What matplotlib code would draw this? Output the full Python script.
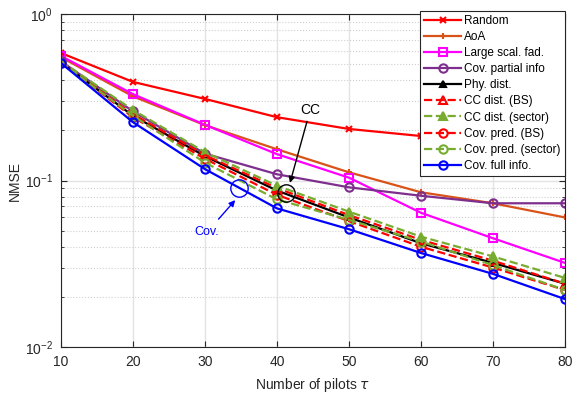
import matplotlib
matplotlib.use("Agg")
import matplotlib.pyplot as plt
from matplotlib.ticker import LogLocator, NullFormatter

plt.rcParams['font.family'] = ['Liberation Sans', 'DejaVu Sans']

pilots = [10, 20, 30, 40, 50, 60, 70, 80]
random_ = [0.583, 0.391, 0.309, 0.240, 0.204, 0.185, 0.168, 0.146]
aoa = [0.55, 0.32, 0.215, 0.154, 0.112, 0.085, 0.073, 0.060]
large_scal = [0.56, 0.33, 0.216, 0.144, 0.104, 0.064, 0.045, 0.032]
cov_partial = [0.52, 0.26, 0.145, 0.109, 0.091, 0.081, 0.073, 0.073]
phy_dist = [0.51, 0.245, 0.140, 0.087, 0.060, 0.042, 0.032, 0.024]
cc_bs = [0.51, 0.25, 0.142, 0.090, 0.062, 0.044, 0.033, 0.024]
cc_sector = [0.52, 0.265, 0.148, 0.093, 0.065, 0.046, 0.035, 0.026]
cov_pred_bs = [0.51, 0.24, 0.135, 0.082, 0.057, 0.040, 0.030, 0.022]
cov_pred_sector = [0.51, 0.245, 0.128, 0.077, 0.058, 0.043, 0.031, 0.022]
cov_full = [0.507, 0.224, 0.117, 0.068, 0.051, 0.0367, 0.0275, 0.0194]

fig = plt.figure(figsize=(5.73, 3.95), dpi=100)
ax = fig.add_axes([0.1065, 0.1215, 0.8795, 0.843])

orange = '#D95319'
purple = '#7E2F8E'
green = '#77AC30'
lw = 1.6
ms = 6
ax.plot(pilots, random_, '-', color='red', marker='x', lw=lw, ms=4, mew=1.5, label='Random')
ax.plot(pilots, aoa, '-', color=orange, marker='+', lw=lw, ms=5, mew=1.5, label='AoA')
ax.plot(pilots, large_scal, '-', color='magenta', marker='s', mfc='none', lw=lw, ms=ms, mew=1.5, label='Large scal. fad.')
ax.plot(pilots, cov_partial, '-', color=purple, marker='o', mfc='none', lw=lw, ms=ms, mew=1.5, label='Cov. partial info')
ax.plot(pilots, phy_dist, '-', color='black', marker='^', mfc='black', lw=lw, ms=4, mew=1.5, label='Phy. dist.')
ax.plot(pilots, cc_bs, '--', color='red', marker='^', mfc='none', lw=lw, ms=ms, mew=1.5, label='CC dist. (BS)')
ax.plot(pilots, cc_sector, '--', color=green, marker='^', mfc=green, lw=lw, ms=ms, mew=1.5, label='CC dist. (sector)')
ax.plot(pilots, cov_pred_bs, '--', color='red', marker='o', mfc='none', lw=lw, ms=ms, mew=1.5, label='Cov. pred. (BS)')
ax.plot(pilots, cov_pred_sector, '--', color=green, marker='o', mfc='none', lw=lw, ms=ms, mew=1.5, label='Cov. pred. (sector)')
ax.plot(pilots, cov_full, '-', color='blue', marker='o', mfc='none', lw=lw, ms=ms, mew=1.5, label='Cov. full info.')

ax.set_yscale('log')
ax.set_xlim(10, 80)
ax.set_ylim(1e-2, 1)
ax.set_xticks(pilots)
ax.yaxis.set_minor_locator(LogLocator(base=10, subs=range(2, 10)))
ax.yaxis.set_minor_formatter(NullFormatter())
ax.grid(True, which='major', color='#e3e3e3', lw=1.0, ls='-')
ax.grid(True, which='minor', axis='y', color='#d0d0d0', lw=0.8, ls=':')
ax.set_axisbelow(True)
ax.tick_params(which='both', direction='in', top=True, right=True, labelsize=10, colors='#262626')
ax.tick_params(which='major', length=4, pad=6)
ax.tick_params(which='minor', length=2)
for s in ax.spines.values():
    s.set_color('#262626')
ax.set_xlabel(r'Number of pilots $\tau$', fontsize=10, color='#262626', labelpad=5)
ax.set_ylabel('NMSE', fontsize=10, color='#262626', labelpad=2)

# annotation circles (drawn as large hollow markers so they stay round on log axes)
ax.plot([41.2], [0.0838], 'o', ms=12.5, mfc='none', mec='black', mew=1.0)
ax.plot([34.7], [0.0900], 'o', ms=12.5, mfc='none', mec='blue', mew=1.0)

ax.annotate('CC', xy=(41.8, 0.0967), xytext=(44.6, 0.24), fontsize=10, color='black',
            ha='center', va='bottom',
            arrowprops=dict(arrowstyle='-|>', color='black', lw=1, shrinkA=1, shrinkB=0, mutation_scale=9))
ax.annotate('Cov.', xy=(34.2, 0.0763), xytext=(30.3, 0.049), fontsize=9, color='blue',
            ha='center', va='center',
            arrowprops=dict(arrowstyle='-|>', color='blue', lw=1, shrinkA=4, shrinkB=0, mutation_scale=9))

leg = ax.legend(loc='upper right', bbox_to_anchor=(1.0, 1.01), fontsize=8.5, handlelength=3.1,
                borderaxespad=0.0, labelspacing=0.35, fancybox=False, edgecolor='#262626',
                framealpha=1, borderpad=0.35, handletextpad=0.3)
leg.get_frame().set_linewidth(0.8)

fig.savefig('out.png', dpi=100)
